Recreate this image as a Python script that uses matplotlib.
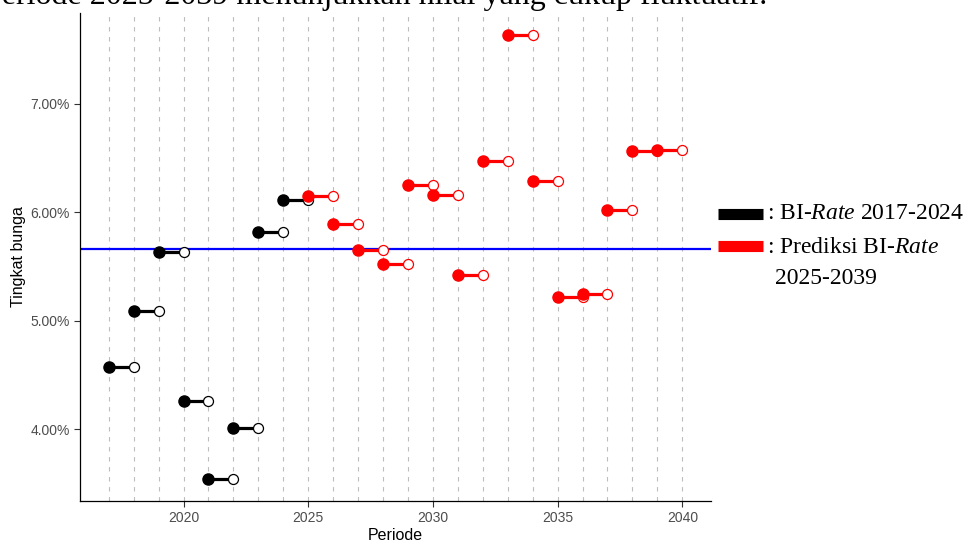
import numpy as np
import matplotlib
matplotlib.use("Agg")
import matplotlib.pyplot as plt
from matplotlib.lines import Line2D
from matplotlib.ticker import FuncFormatter

# BI-Rate observed (black) and predicted (red), in percent
years_obs = [2017, 2018, 2019, 2020, 2021, 2022, 2023, 2024]
rate_obs = [4.577, 5.09, 5.633, 4.255, 3.541, 4.01, 5.817, 6.117]

years_pred = [2025, 2026, 2027, 2028, 2029, 2030, 2031, 2032,
              2033, 2034, 2035, 2036, 2037, 2038, 2039]
rate_pred = [6.153, 5.896, 5.65, 5.528, 6.255, 6.163, 5.42, 6.478,
             7.635, 6.29, 5.215, 5.243, 6.018, 6.57, 6.577]

grid_years = list(range(2017, 2041))
x_ticks = [2020, 2025, 2030, 2035, 2040]
y_ticks = [4, 5, 6, 7]

legend_labels = [r": BI-$\mathit{Rate}$ 2017-2024", r": Prediksi BI-$\mathit{Rate}$"]
legend_label_2 = "2025-2039"
top_text = "Periode 2025-2039 menunjukkan nilai yang cukup fluktuatif."

plt.rcParams["mathtext.fontset"] = "custom"
plt.rcParams["mathtext.rm"] = "Liberation Serif"
plt.rcParams["mathtext.it"] = "Liberation Serif:italic"

W, H = 969, 546
fig = plt.figure(figsize=(W / 100, H / 100), dpi=100)
ax = fig.add_axes([80 / W, 1 - 501 / H, (711 - 80) / W, (501 - 13) / H])

all_rates = np.array(rate_obs + rate_pred)
mean_rate = all_rates.mean()

# vertical dashed lines at each year
for yr in grid_years:
    ax.axvline(yr, color="#BDBDBD", lw=0.8, ls=(0, (4, 5)), zorder=0.5)

ax.axhline(mean_rate, color="#0000FF", lw=1.6, zorder=1)

def dumbbell(years, rates, col):
    years = np.array(years)
    rates = np.array(rates)
    ax.hlines(rates, years, years + 1, colors=col, lw=2.3, zorder=2)
    ax.plot(years + 1, rates, "o", ms=7.2, mfc="white", mec=col, mew=0.9,
            ls="none", zorder=3)
    ax.plot(years, rates, "o", ms=8.0, color=col, ls="none", zorder=4)

dumbbell(years_obs, rate_obs, "black")
dumbbell(years_pred, rate_pred, "#FF0000")

# ggplot-like 5% expansion
xmin, xmax = min(grid_years), max(grid_years)
ax.set_xlim(xmin - 0.05 * (xmax - xmin), xmax + 0.05 * (xmax - xmin))
ymin, ymax = all_rates.min(), all_rates.max()
ax.set_ylim(ymin - 0.05 * (ymax - ymin), ymax + 0.05 * (ymax - ymin))

ax.set_xticks(x_ticks)
ax.set_yticks(y_ticks)
ax.yaxis.set_major_formatter(FuncFormatter(lambda v, p: "%.2f%%" % v))
ax.tick_params(colors="#333333", labelcolor="#4D4D4D", labelsize=10,
               length=4, width=0.8)
for lab in ax.get_xticklabels() + ax.get_yticklabels():
    lab.set_fontfamily("Liberation Sans")

for s in ["top", "right"]:
    ax.spines[s].set_visible(False)
for s in ["left", "bottom"]:
    ax.spines[s].set_color("black")
    ax.spines[s].set_linewidth(0.9)

ax.set_xlabel("Periode", fontsize=11.5, family="Liberation Sans", labelpad=2)
ax.set_ylabel("Tingkat bunga", fontsize=11.5, family="Liberation Sans", labelpad=3)

# legend drawn by hand (outside the panel)
fig.add_artist(Line2D([718 / W, 763 / W], [1 - 213.8 / H] * 2, color="black",
                      lw=8, solid_capstyle="butt", transform=fig.transFigure))
fig.add_artist(Line2D([718 / W, 763 / W], [1 - 245.5 / H] * 2, color="#FF0000",
                      lw=8, solid_capstyle="butt", transform=fig.transFigure))
fig.text(767 / W, 1 - 219.3 / H, legend_labels[0], family="Liberation Serif",
         fontsize=17, va="baseline", ha="left")
fig.text(767 / W, 1 - 252.7 / H, legend_labels[1], family="Liberation Serif",
         fontsize=17, va="baseline", ha="left")
fig.text(775 / W, 1 - 284 / H, legend_label_2, family="Liberation Serif",
         fontsize=17, va="baseline", ha="left")

# caption text cut off at the top of the image
fig.text(767 / W, 1 - 4 / H, top_text, family="Liberation Serif",
         fontsize=23, va="baseline", ha="right")

fig.savefig("out.png", dpi=100)
